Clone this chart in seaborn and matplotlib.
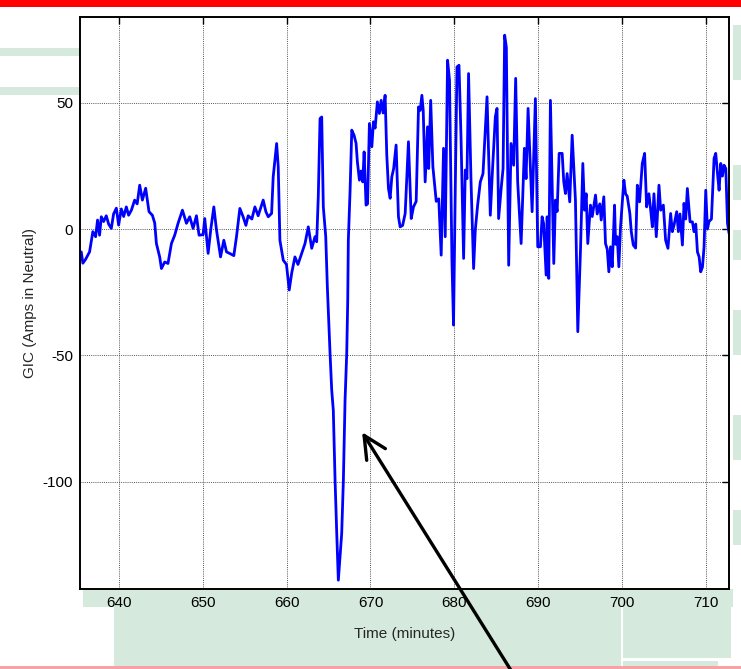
import matplotlib
matplotlib.use("Agg")
import matplotlib.pyplot as plt
import seaborn as sns
import pandas as pd
from matplotlib.patches import Rectangle

# ---- data ----
time_min = [
    635.55, 635.74, 636.06, 636.54, 636.93, 637.26, 637.49, 637.73, 637.94, 638.21,
    638.53, 638.81, 639.13, 639.40, 639.73, 640.00, 640.32, 640.60, 640.92, 641.19,
    641.52, 641.91, 642.21, 642.51, 642.83, 643.22, 643.62, 644.02, 644.30, 644.50,
    644.89, 645.10, 645.49, 645.88, 646.29, 646.68, 647.08, 647.60, 648.08, 648.47,
    648.87, 649.27, 649.58, 650.06, 650.26, 650.66, 650.98, 651.34, 651.66, 652.14,
    652.53, 652.85, 653.45, 653.72, 654.04, 654.44, 654.83, 655.16, 655.43, 655.87,
    656.23, 656.62, 657.22, 657.54, 657.82, 658.22, 658.41, 658.82, 659.01, 659.21,
    659.61, 659.99, 660.32, 660.61, 661.00, 661.36, 661.80, 662.20, 662.59, 663.00,
    663.39, 663.59, 663.78, 663.99, 664.19, 664.38, 664.67, 664.86, 665.18, 665.38,
    665.57, 665.78, 665.98, 666.17, 666.57, 666.77, 666.97, 667.17, 667.29, 667.36,
    667.57, 667.77, 668.04, 668.28, 668.44, 668.68, 668.88, 669.08, 669.24, 669.47,
    669.65, 669.87, 670.16, 670.35, 670.55, 670.82, 671.06, 671.27, 671.50, 671.74,
    671.94, 672.14, 672.34, 672.54, 672.76, 673.05, 673.33, 673.53, 673.83, 674.13,
    674.52, 674.85, 675.12, 675.44, 675.72, 675.92, 676.12, 676.28, 676.51, 676.79,
    676.93, 677.17, 677.43, 677.83, 678.13, 678.42, 678.70, 678.90, 679.18, 679.41,
    679.70, 679.89, 680.10, 680.30, 680.54, 680.78, 681.09, 681.29, 681.49, 681.68,
    681.97, 682.28, 682.48, 682.76, 683.08, 683.40, 683.88, 684.27, 684.55, 684.87,
    685.07, 685.26, 685.58, 685.79, 685.98, 686.18, 686.46, 686.74, 687.05, 687.29,
    687.53, 687.94, 688.33, 688.53, 688.77, 689.25, 689.64, 689.92, 690.24, 690.44,
    690.63, 690.92, 691.04, 691.23, 691.43, 691.83, 692.03, 692.23, 692.47, 692.83,
    693.02, 693.22, 693.42, 693.73, 694.02, 694.41, 694.69, 695.01, 695.29, 695.49,
    695.69, 695.88, 696.20, 696.41, 696.80, 697.00, 697.31, 697.48, 697.79, 697.99,
    698.20, 698.39, 698.59, 698.79, 699.07, 699.19, 699.39, 699.58, 699.78, 700.18,
    700.38, 700.58, 700.89, 701.06, 701.30, 701.58, 701.78, 702.05, 702.37, 702.65,
    702.89, 703.16, 703.36, 703.57, 703.76, 704.04, 704.36, 704.56, 704.88, 705.15,
    705.43, 705.75, 705.95, 706.15, 706.47, 706.67, 706.86, 707.15, 707.34, 707.54,
    707.74, 708.06, 708.34, 708.53, 708.74, 708.94, 709.14, 709.33, 709.54, 709.73,
    709.93, 710.13, 710.32, 710.61, 710.92, 711.12, 711.33, 711.52, 711.72, 711.92,
    712.11, 712.32, 712.52, 712.71,
]
gic_amps = [
    -9.0, -13.5, -12.0, -9.0, -1.0, -3.0, 3.6, -2.4, 4.9, 3.0,
    5.3, 2.0, 0.3, 6.0, 8.3, 1.6, 8.0, 5.0, 8.8, 5.5,
    7.5, 11.5, 10.0, 17.4, 11.5, 16.2, 6.9, 5.5, 2.4, -5.7,
    -11.0, -15.6, -13.0, -13.6, -5.7, -2.4, 2.3, 7.5, 2.3, 4.9,
    0.3, 5.3, -2.4, -2.2, 4.2, -9.6, 0.0, 8.8, -0.4, -11.0,
    -4.4, -9.0, -10.0, -10.5, -3.0, 8.2, 4.9, 1.5, 5.3, 4.0,
    8.8, 5.3, 11.5, 6.9, 4.9, 6.2, 20.7, 33.9, 24.8, -4.4,
    -12.3, -14.0, -24.1, -17.5, -11.0, -14.0, -9.6, -5.7, 0.9, -7.6,
    -3.0, -5.0, 12.8, 43.8, 44.4, 8.8, -3.0, -22.8, -49.0, -63.7,
    -71.7, -99.4, -120.5, -139.0, -120.5, -99.4, -67.7, -49.0, -28.0, -4.4,
    15.4, 39.2, 37.2, 34.0, 26.6, 19.4, 23.0, 18.7, 30.6, 9.5,
    10.0, 41.8, 32.6, 42.5, 40.0, 50.4, 45.8, 51.0, 46.0, 53.0,
    29.3, 16.1, 12.2, 20.7, 24.0, 33.3, 4.9, 0.9, 1.5, 6.2,
    34.6, 4.2, 8.8, 11.0, 48.4, 47.0, 53.0, 47.0, 18.7, 40.5,
    24.0, 51.0, 24.7, 11.0, 12.0, -10.3, 32.0, -3.0, 66.9, 59.0,
    -12.3, -38.0, 16.7, 64.2, 64.9, 36.5, -11.6, 23.4, 20.0, 61.6,
    19.4, -15.6, -0.4, 9.5, 18.7, 22.0, 52.4, 5.5, 24.7, 44.5,
    47.8, 4.2, 16.7, 24.0, 76.8, 72.0, -14.3, 33.9, 25.3, 59.7,
    18.7, -5.7, 32.0, 20.0, 47.8, 6.9, 51.7, -7.0, -7.0, 4.9,
    2.0, -18.2, 4.9, -19.5, 51.0, -13.6, 11.5, 7.0, 30.0, 30.0,
    18.7, 14.1, 22.0, 10.8, 37.2, 11.5, -40.6, -8.3, 26.0, 7.5,
    14.0, -5.7, 9.5, 5.0, 13.5, 6.0, 10.0, 3.6, 12.8, -5.7,
    -8.0, -16.9, -7.0, -14.9, 9.5, -6.0, -3.0, -14.9, 0.9, 19.4,
    14.0, 13.0, 6.2, -1.0, -6.3, -7.5, 17.4, 10.8, 26.0, 30.0,
    8.8, 14.0, 8.0, 0.9, 14.0, -3.0, 17.4, 7.5, 9.5, -4.4,
    -7.6, 6.2, -1.0, 1.5, 6.9, -1.0, 6.0, -6.3, 10.2, 4.0,
    16.1, 2.9, 2.9, -1.0, 2.0, -9.0, -11.0, -16.9, -15.0, -7.0,
    15.4, 0.0, 3.0, 4.0, 28.0, 30.0, 22.0, 15.4, 26.0, 21.0,
    25.3, 24.0, 2.3, -1.7,
]
x_ticks = [640, 650, 660, 670, 680, 690, 700, 710]
y_ticks = [-100, -50, 0, 50]
x_label = "Time (minutes)"
y_label = "GIC (Amps in Neutral)"
arrow_tip = (669.0, -80.4)

df = pd.DataFrame({"time": time_min, "gic": gic_amps})

sns.set_style("white")
plt.rcParams["font.family"] = ["Liberation Sans", "DejaVu Sans"]
plt.rcParams["axes.unicode_minus"] = False

W, H = 741, 669
fig = plt.figure(figsize=(W / 100, H / 100), dpi=100)
fig.patch.set_facecolor("white")


def px_rect(x, y, w, h, color):
    fig.patches.append(Rectangle((x / W, 1 - (y + h) / H), w / W, h / H,
                                 transform=fig.transFigure, facecolor=color,
                                 edgecolor="none", zorder=-5))


green = "#d5eadc"
# decorative background (slide watermark)
px_rect(0, 0, 741, 7, "#ff0000")
px_rect(0, 48, 82, 8, green)
px_rect(0, 87, 82, 8, green)
px_rect(83, 589, 650, 18, green)
px_rect(114, 606, 507, 63, green)
px_rect(623, 606, 108, 52, green)
px_rect(623, 661, 95, 6, green)
for yy, hh in [(25, 55), (165, 35), (230, 30), (310, 45), (415, 45), (510, 35)]:
    px_rect(733, yy, 8, hh, green)
px_rect(0, 666, 741, 3, "#f5a3a3")

ax = fig.add_axes([80 / W, 1 - 589 / H, 649 / W, 572 / H])
ax.set_facecolor("white")

sns.lineplot(data=df, x="time", y="gic", ax=ax, color="#0000ff",
             linewidth=2.0, estimator=None, sort=False)

ax.set_xlim(635.4, 712.7)
ax.set_ylim(-142.5, 84)
ax.set_xticks(x_ticks)
ax.set_yticks(y_ticks)
ax.grid(True, color="#555555", linestyle=(0, (1, 1.2)), linewidth=0.7)
ax.tick_params(direction="in", top=True, right=True, length=5, width=1,
               labelsize=11, colors="black", pad=5)
for sp in ax.spines.values():
    sp.set_visible(True)
    sp.set_color("black")
    sp.set_linewidth(1.4)
ax.set_xlabel(x_label, fontsize=11, labelpad=12)
ax.set_ylabel(y_label, fontsize=11, labelpad=4)

ax.annotate("", xy=arrow_tip, xycoords="data",
            xytext=(512, -3), textcoords="figure pixels",
            annotation_clip=False,
            arrowprops=dict(arrowstyle="->, head_length=0.45, head_width=0.22",
                            color="black", lw=2.4, mutation_scale=36,
                            shrinkA=0, shrinkB=0, clip_on=False))

fig.savefig("out.png", dpi=100)
